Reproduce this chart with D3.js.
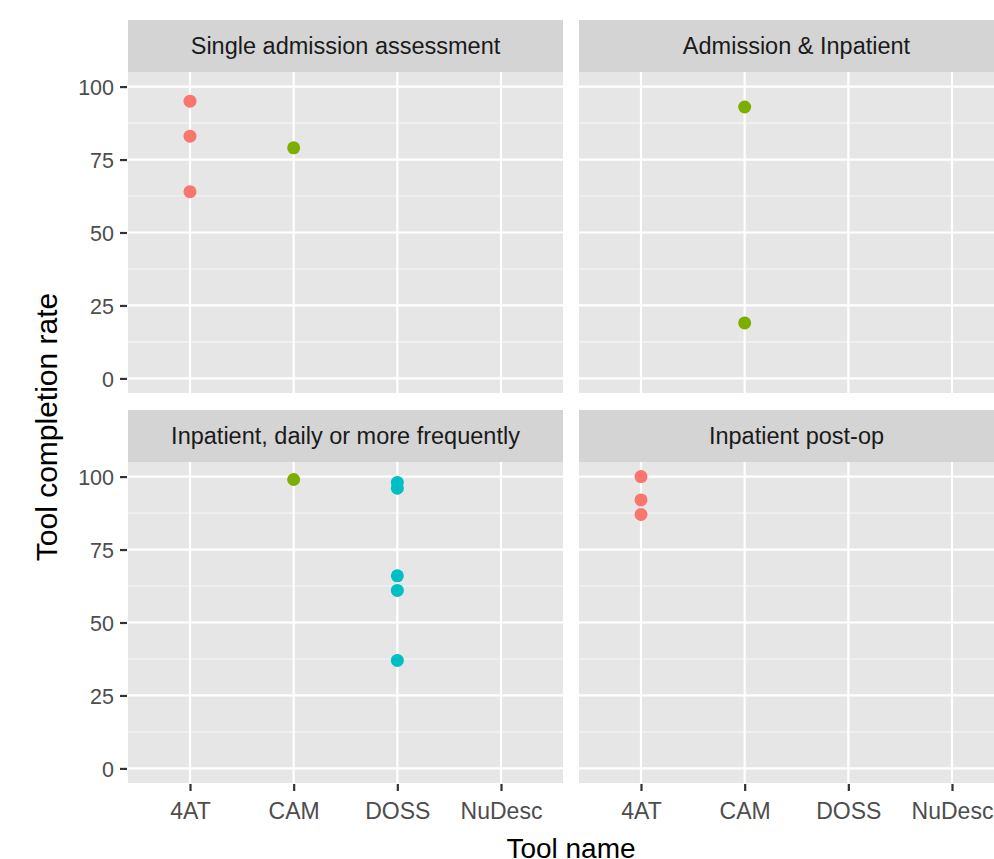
<!DOCTYPE html>
<html>
<head>
<meta charset="utf-8">
<script src="https://cdn.jsdelivr.net/npm/d3@7"></script>
<style>
  body { margin: 0; background: #fff; overflow: hidden; }
  svg { display: block; font-family: "Liberation Sans", Arial, sans-serif; }
</style>
</head>
<body>
<svg></svg>
<script>
// data
const tools = ["4AT", "CAM", "DOSS", "NuDesc"];
const facets = ["Single admission assessment", "Admission & Inpatient",
                "Inpatient, daily or more frequently", "Inpatient post-op"];
const yTicks = [0, 25, 50, 75, 100];
const yMinor = [12.5, 37.5, 62.5, 87.5];
const toolColors = ["#F8766D", "#7CAE00", "#00BFC4", "#C77CFF"];

const singleAdmission = [["4AT", 95], ["4AT", 83], ["4AT", 64], ["CAM", 79]];
const admissionInpatient = [["CAM", 93], ["CAM", 19]];
const inpatientDaily = [["CAM", 99], ["DOSS", 98], ["DOSS", 96], ["DOSS", 66], ["DOSS", 61], ["DOSS", 37]];
const inpatientPostOp = [["4AT", 100], ["4AT", 92], ["4AT", 87]];
const facetData = [singleAdmission, admissionInpatient, inpatientDaily, inpatientPostOp];

let svg = d3.select("svg").attr("width", 994).attr("height", 859);

const panelW = 435, plotH = 321, stripH = 52;
const panelX = [128, 579], panelY = [20, 410];

let x = d3.scalePoint().domain(tools).range([62, panelW - 62]);
let y = d3.scaleLinear().domain([-5, 105]).range([plotH, 0]);
let color = d3.scaleOrdinal().domain(tools).range(toolColors);

facets.forEach((name, i) => {
    let col = i % 2, row = Math.floor(i / 2);
    let g = svg.append("g").attr("transform", `translate(${panelX[col]},${panelY[row]})`);

    // strip
    g.append("rect").attr("width", panelW).attr("height", stripH).style("fill", "#D4D4D4");
    g.append("text")
        .attr("x", panelW / 2).attr("y", stripH / 2 + 8)
        .attr("text-anchor", "middle")
        .style("font-size", "23.5px").style("fill", "#1A1A1A")
        .text(name);

    let p = g.append("g").attr("transform", `translate(0,${stripH})`);
    p.append("rect").attr("width", panelW).attr("height", plotH).style("fill", "#E6E6E6");

    p.selectAll(".minor").data(yMinor).enter().append("line")
        .attr("x1", 0).attr("x2", panelW)
        .attr("y1", d => y(d)).attr("y2", d => y(d))
        .style("stroke", "#F5F5F5").style("stroke-width", 1.2);
    p.selectAll(".major").data(yTicks).enter().append("line")
        .attr("x1", 0).attr("x2", panelW)
        .attr("y1", d => y(d)).attr("y2", d => y(d))
        .style("stroke", "#fff").style("stroke-width", 2.2);
    p.selectAll(".vx").data(tools).enter().append("line")
        .attr("x1", d => x(d)).attr("x2", d => x(d))
        .attr("y1", 0).attr("y2", plotH)
        .style("stroke", "#fff").style("stroke-width", 2.2);

    p.selectAll("circle").data(facetData[i]).enter().append("circle")
        .attr("cx", d => x(d[0]))
        .attr("cy", d => y(d[1]))
        .attr("r", 6.5)
        .style("fill", d => color(d[0]));

    // y axis on left column
    if (col == 0) {
        let ay = p.append("g").call(d3.axisLeft(y).tickValues(yTicks).tickSize(7).tickPadding(7));
        ay.select(".domain").remove();
        ay.selectAll("line").style("stroke", "#333").style("stroke-width", 2.2).attr("transform", "translate(-1,0)");
        ay.selectAll("text").attr("dy", "0.36em").style("font-size", "21.5px").style("fill", "#4D4D4D")
            .style("font-family", "Liberation Sans, Arial, sans-serif");
    }
    // x axis on bottom row
    if (row == 1) {
        let ax = p.append("g").attr("transform", `translate(0,${plotH})`)
            .call(d3.axisBottom(x).tickSize(7).tickPadding(13));
        ax.select(".domain").remove();
        ax.selectAll("line").style("stroke", "#333").style("stroke-width", 2.2).attr("transform", "translate(0,1)");
        ax.selectAll("text").style("font-size", "23px").style("fill", "#4D4D4D")
            .style("font-family", "Liberation Sans, Arial, sans-serif");
    }
});

svg.append("text")
    .attr("x", 571).attr("y", 858)
    .attr("text-anchor", "middle")
    .style("font-size", "28px").style("fill", "#000")
    .text("Tool name");

svg.append("text")
    .attr("transform", "translate(57,427) rotate(-90)")
    .attr("text-anchor", "middle")
    .style("font-size", "30px").style("fill", "#000")
    .text("Tool completion rate");
</script>
</body>
</html>
